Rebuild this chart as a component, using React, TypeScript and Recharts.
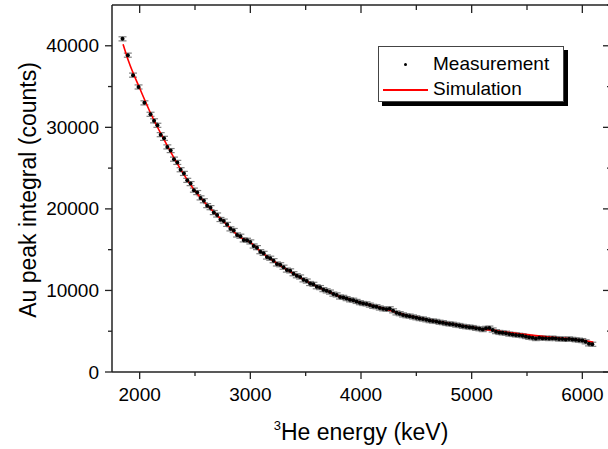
import React from 'react'
import { ComposedChart, Line, Scatter, ErrorBar, XAxis, YAxis } from 'recharts'

// measured Au peak integrals vs 3He energy (keV)
const measEnergy = [
  1845, 1893, 1940, 1990, 2043, 2098, 2130, 2160, 2190, 2220, 2250, 2280, 2310, 2340, 2370, 2400,
  2430, 2460, 2490, 2520, 2550, 2580, 2610, 2640, 2670, 2700, 2730, 2760, 2790, 2820, 2850, 2880,
  2910, 2940, 2970, 3000, 3030, 3060, 3090, 3120, 3150, 3180, 3210, 3240, 3270, 3300, 3330, 3360,
  3390, 3420, 3450, 3480, 3510, 3540, 3570, 3600, 3630, 3660, 3690, 3720, 3750, 3780, 3810, 3840,
  3870, 3900, 3930, 3960, 3990, 4020, 4050, 4080, 4110, 4140, 4170, 4200, 4230, 4260, 4290, 4320,
  4350, 4380, 4410, 4440, 4470, 4500, 4530, 4560, 4590, 4620, 4650, 4680, 4710, 4740, 4770, 4800,
  4830, 4860, 4890, 4920, 4950, 4980, 5010, 5040, 5070, 5100, 5130, 5160, 5190, 5220, 5250, 5280,
  5310, 5340, 5370, 5400, 5430, 5460, 5490, 5520, 5550, 5580, 5610, 5640, 5670, 5700, 5730, 5760,
  5790, 5820, 5850, 5880, 5910, 5940, 5970, 6000, 6030, 6060, 6090,
]
const measCounts = [
  40850, 38850, 36400, 34950, 33000, 31600, 30800, 30250, 29100, 28650, 27600, 27150, 26100, 25700, 24800, 24350,
  23500, 23100, 22300, 22000, 21350, 21000, 20400, 20150, 19550, 19250, 18700, 18500, 18100, 17550, 17350, 16800,
  16650, 16200, 16150, 15950, 15450, 15250, 14750, 14550, 14100, 13950, 13650, 13250, 13150, 12850, 12500, 12400,
  12050, 11800, 11650, 11300, 11150, 10850, 10750, 10450, 10350, 10100, 9950, 9800, 9550, 9450, 9200, 9150,
  9000, 8850, 8800, 8650, 8500, 8400, 8350, 8200, 8050, 8000, 7850, 7750, 7700, 7750, 7500, 7250,
  7150, 7000, 6900, 6850, 6750, 6650, 6550, 6500, 6400, 6300, 6250, 6200, 6100, 6050, 5950, 5900,
  5850, 5750, 5700, 5600, 5550, 5500, 5450, 5350, 5300, 5200, 5350, 5380, 5150, 4950, 4850, 4800,
  4750, 4650, 4600, 4550, 4500, 4450, 4350, 4250, 4200, 4100, 4200, 4150, 4150, 4100, 4150, 4100,
  4050, 4050, 4000, 4050, 4000, 3950, 3900, 3850, 3700, 3450, 3400,
]
const measError = 250

// simulated curve
const simEnergy = [
  1850, 1900, 2000, 2100, 2200, 2300, 2400, 2500, 2600, 2700, 2800, 2900, 3000, 3100, 3200,
  3300, 3400, 3500, 3600, 3700, 3800, 3900, 4000, 4100, 4200, 4300, 4400, 4500, 4600, 4700,
  4800, 4900, 5000, 5100, 5200, 5300, 5400, 5500, 5600, 5700, 5800, 5900, 6000, 6100,
]
const simCounts = [
  40200, 38100, 34800, 31700, 29000, 26500, 24200, 22200, 20600, 19200, 17900, 16600, 15900, 14700, 13700,
  12800, 12000, 11200, 10500, 9900, 9300, 8900, 8500, 8150, 7800, 7400, 7000, 6700, 6400, 6150,
  5950, 5700, 5500, 5250, 5100, 4900, 4750, 4580, 4430, 4300, 4170, 4050, 3900, 3650,
]

const xTicks = [2000, 2500, 3000, 3500, 4000, 4500, 5000, 5500, 6000]
const yTicks = [0, 5000, 10000, 15000, 20000, 25000, 30000, 35000, 40000]

const measData = measEnergy.map((e, i) => ({ e, c: measCounts[i], err: measError }))
const simData = simEnergy.map((e, i) => ({ e, sim: simCounts[i] }))

const FONT = '"Liberation Sans", Arial, sans-serif'
const AXIS = '#222'

const BottomTick = ({ x, y, payload }: any) => {
  const major = payload.value % 1000 === 0
  return (
    <g>
      <line x1={x} x2={x} y1={y} y2={y + (major ? 7 : 4)} stroke={AXIS} strokeWidth={1.3} />
      {major && (
        <text x={x} y={y + 22} textAnchor="middle" dominantBaseline="central" fontSize={19} fontFamily={FONT} fill="#000">
          {payload.value}
        </text>
      )}
    </g>
  )
}

const TopTick = ({ x, y, payload }: any) => {
  const major = payload.value % 1000 === 0
  return <line x1={x} x2={x} y1={y} y2={y + (major ? 8 : 5)} stroke={AXIS} strokeWidth={1.3} />
}

const LeftTick = ({ x, y, payload }: any) => {
  const major = payload.value % 10000 === 0
  return (
    <g>
      <line x1={x} x2={x - (major ? 7 : 4)} y1={y} y2={y} stroke={AXIS} strokeWidth={1.3} />
      {major && (
        <text x={x - 13} y={y} textAnchor="end" dominantBaseline="central" fontSize={19} fontFamily={FONT} fill="#000">
          {payload.value}
        </text>
      )}
    </g>
  )
}

const RightTick = ({ x, y, payload }: any) => {
  const major = payload.value % 10000 === 0
  return <line x1={x} x2={x - (major ? 7 : 3)} y1={y} y2={y} stroke={AXIS} strokeWidth={1.3} />
}

const Dot = ({ cx, cy }: any) => <circle cx={cx} cy={cy} r={2} fill="#000" />

export default function App() {
  return (
    <div style={{ position: 'absolute', left: 0, top: 0, width: 608, height: 449, overflow: 'hidden', background: '#fff', fontFamily: FONT }}>
      <ComposedChart width={620} height={449} margin={{ top: 0, right: 0, bottom: 0, left: 0 }}>
        <XAxis xAxisId="b" type="number" dataKey="e" domain={[1750, 6250]} ticks={xTicks} interval={0}
          allowDataOverflow height={77} tickSize={0} tickMargin={0} tick={<BottomTick />}
          axisLine={{ stroke: AXIS, strokeWidth: 1.5 }} />
        <XAxis xAxisId="t" orientation="top" type="number" dataKey="e" domain={[1750, 6250]} ticks={xTicks} interval={0}
          allowDataOverflow height={5} tickSize={0} tickMargin={0} tick={<TopTick />}
          axisLine={{ stroke: AXIS, strokeWidth: 1.5 }} />
        <YAxis yAxisId="l" type="number" domain={[0, 45000]} ticks={yTicks} interval={0}
          allowDataOverflow width={112} tickSize={0} tickMargin={0} tick={<LeftTick />}
          axisLine={{ stroke: AXIS, strokeWidth: 1.5 }} />
        <YAxis yAxisId="r" orientation="right" type="number" domain={[0, 45000]} ticks={[...yTicks, 45000]} interval={0}
          allowDataOverflow width={10} tickSize={0} tickMargin={0} tick={<RightTick />}
          axisLine={{ stroke: AXIS, strokeWidth: 1.5 }} />
        <Scatter xAxisId="b" yAxisId="l" data={measData} dataKey="c" shape={<Dot />} isAnimationActive={false}>
          <ErrorBar dataKey="err" direction="y" width={4} stroke="#808080" strokeWidth={1.2} />
        </Scatter>
        <Line xAxisId="b" yAxisId="l" data={simData} dataKey="sim" type="monotone" stroke="#ff0000"
          strokeWidth={1.6} dot={false} isAnimationActive={false} />
      </ComposedChart>

      {/* axis titles */}
      <div style={{ position: 'absolute', left: 0, width: 722, top: 419, textAlign: 'center', fontSize: 23, lineHeight: '26px', color: '#000' }}>
        <sup style={{ fontSize: 13, verticalAlign: 'top', lineHeight: '14px' }}>3</sup>He energy (keV)
      </div>
      <div style={{ position: 'absolute', left: 28, top: 190, width: 0, height: 0 }}>
        <div style={{ position: 'absolute', transform: 'translate(-50%, -50%) rotate(-90deg)', whiteSpace: 'nowrap', fontSize: 23, lineHeight: '26px', color: '#000' }}>
          Au peak integral (counts)
        </div>
      </div>

      {/* legend */}
      <div style={{ position: 'absolute', left: 378, top: 46, width: 184, height: 54, border: '1px solid #444', background: '#fff', boxShadow: '4px 4px 0 #000' }}>
        <div style={{ position: 'absolute', left: 25, top: 16, width: 3, height: 3, borderRadius: 2, background: '#000' }} />
        <div style={{ position: 'absolute', left: 54, top: 6, fontSize: 19, lineHeight: '22px', color: '#000' }}>Measurement</div>
        <div style={{ position: 'absolute', left: 4, top: 42, width: 45, height: 1.5, background: '#ff0000' }} />
        <div style={{ position: 'absolute', left: 54, top: 31, fontSize: 19, lineHeight: '22px', color: '#000' }}>Simulation</div>
      </div>
    </div>
  )
}
